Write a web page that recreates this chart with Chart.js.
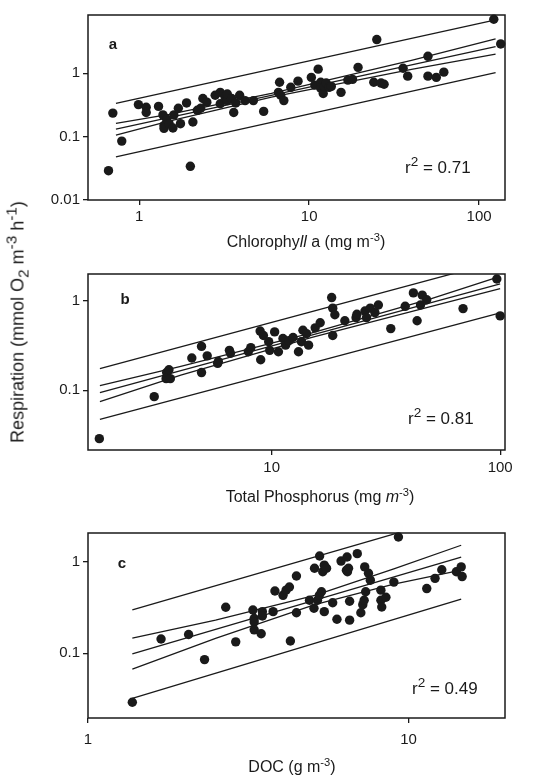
<!DOCTYPE html>
<html>
<head>
<meta charset="utf-8">
<script src="https://cdn.jsdelivr.net/npm/chart.js@4.4.1/dist/chart.umd.min.js"></script>
<style>
  body { margin: 0; background: #fff; }
  #page { position: relative; width: 553px; height: 775px; overflow: hidden;
          font-family: "Liberation Sans", Arial, sans-serif; color: #1a1a1a; }
  canvas { position: absolute; left: 0; }
  .txt { position: absolute; white-space: nowrap; font-size: 16px; line-height: 1; }
  .ctr { transform: translate(-50%, -50%); }
  .lft { transform: translate(0, -50%); }
  sup, sub { font-size: 0.7em; line-height: 0; }
  .ytitle { position: absolute; left: 18px; top: 322px; font-size: 18px; white-space: nowrap;
            transform: translate(-50%, -50%) rotate(-90deg); }
  .ytitle sup, .ytitle sub { font-size: 0.85em; }
  .letter { font-weight: bold; font-size: 15px; }
  .r2 { font-size: 17px; }
  .r2 sup { font-size: 0.8em; }
</style>
</head>
<body>
<div id="page">
  <canvas id="chartA"></canvas>
  <canvas id="chartB"></canvas>
  <canvas id="chartC"></canvas>

  <div class="ytitle">Respiration (mmol O<sub>2</sub> m<sup>-3</sup> h<sup>-1</sup>)</div>

  <div class="txt ctr letter" style="left:113px; top:43px;">a</div>
  <div class="txt ctr letter" style="left:125px; top:298px;">b</div>
  <div class="txt ctr letter" style="left:122px; top:562px;">c</div>

  <div class="txt lft r2" style="left:405px; top:167px;">r<sup>2</sup> = 0.71</div>
  <div class="txt lft r2" style="left:408px; top:418px;">r<sup>2</sup> = 0.81</div>
  <div class="txt lft r2" style="left:412px; top:688px;">r<sup>2</sup> = 0.49</div>

  <div class="txt ctr" style="left:306px; top:242px;">Chlorophy<i>ll</i> a (mg m<sup>-3</sup>)</div>
  <div class="txt ctr" style="left:320px; top:497px;">Total Phosphorus (mg <i>m</i><sup>-3</sup>)</div>
  <div class="txt ctr" style="left:292px; top:767px;">DOC (g m<sup>-3</sup>)</div>
</div>

<script>
// --- PANEL A: respiration vs chlorophyll a ---
const chlA = [0.66, 0.70, 0.79, 0.99, 1.1, 1.1, 1.3, 1.38, 1.4, 1.4, 1.45, 1.5, 1.58, 1.6, 1.7, 1.75,
  1.9, 2.0, 2.07, 2.2, 2.3, 2.37, 2.5, 2.8, 3.0, 3.0, 3.2, 3.3, 3.3, 3.5, 3.6, 3.7, 3.9, 4.2, 4.7,
  5.4, 6.6, 6.7, 6.8, 7.1, 7.8, 8.6, 10.3, 10.8, 11.3, 11.7, 11.7, 12.1, 12.3, 12.6, 13.1, 13.5,
  15.4, 16.9, 18, 19.4, 24, 25, 26.5, 27.6, 35.7, 38, 50, 50, 56, 62, 122, 134];
const respA = [0.029, 0.235, 0.085, 0.32, 0.29, 0.24, 0.30, 0.22, 0.15, 0.135, 0.19, 0.16, 0.137, 0.22, 0.28, 0.16,
  0.34, 0.034, 0.17, 0.26, 0.28, 0.40, 0.35, 0.45, 0.5, 0.33, 0.42, 0.37, 0.47, 0.40, 0.24, 0.34, 0.45, 0.37, 0.37,
  0.25, 0.5, 0.72, 0.45, 0.37, 0.6, 0.75, 0.86, 0.65, 1.16, 0.72, 0.58, 0.48, 0.62, 0.70, 0.6, 0.62,
  0.5, 0.78, 0.8, 1.24, 0.72, 3.4, 0.70, 0.67, 1.2, 0.9, 1.85, 0.9, 0.86, 1.04, 7.1, 2.9];
const lineXA = [0.73, 125];
const fitA = [0.131, 2.64];
const predHiA = [0.336, 6.95];
const predLoA = [0.048, 1.02];
const bandXA = [0.73, 1.5, 6, 40, 125];
const confHiA = [0.162, 0.225, 0.48, 1.6, 3.5];
const confLoA = [0.106, 0.176, 0.42, 1.15, 2.0];
const xTicksA = [1, 10, 100];
const yTicksA = [0.01, 0.1, 1];

// --- PANEL B: respiration vs total phosphorus ---
const tpB = [1.76, 3.06, 3.45, 3.47, 3.55, 3.6, 4.47, 4.93, 4.93, 5.22, 5.8, 5.84, 6.53, 6.6, 7.9, 8.1,
  8.9, 8.95, 9.2, 9.7, 9.8, 10.3, 10.7, 11.2, 11.5, 11.9, 12.4, 13.1, 13.5, 13.7, 14.2, 14.5, 15.5, 16.3,
  18.3, 18.5, 18.5, 18.9, 20.9, 23.4, 23.6, 25.6, 26.0, 27.0, 28.3, 29.3, 33.2, 38.4, 41.7, 43.3, 44.8,
  45.6, 47.7, 68.8, 96.7, 100];
const respB = [0.0288, 0.085, 0.135, 0.158, 0.17, 0.135, 0.23, 0.31, 0.158, 0.243, 0.2, 0.21, 0.28, 0.26, 0.27, 0.30,
  0.46, 0.22, 0.41, 0.35, 0.28, 0.45, 0.27, 0.38, 0.32, 0.36, 0.39, 0.27, 0.35, 0.47, 0.43, 0.32, 0.50, 0.57,
  1.09, 0.83, 0.41, 0.70, 0.60, 0.65, 0.71, 0.77, 0.65, 0.83, 0.74, 0.9, 0.49, 0.87, 1.23, 0.60, 0.9,
  1.16, 1.03, 0.82, 1.76, 0.68];
const lineXB = [1.77, 100];
const fitB = [0.0944, 1.55];
const predHiB = [0.175, 2.8];
const predLoB = [0.0473, 0.734];
const bandXB = [1.77, 4, 15, 50, 100];
const confHiB = [0.113, 0.185, 0.44, 1.06, 1.88];
const confLoB = [0.0748, 0.148, 0.39, 0.87, 1.37];
const xTicksB = [10, 100];
const yTicksB = [0.1, 1];

// --- PANEL C: respiration vs DOC ---
const docC = [1.375, 1.69, 2.06, 2.31, 2.69, 2.89, 3.27, 3.3, 3.3, 3.3, 3.47, 3.5, 3.5, 3.78, 3.83, 4.06,
  4.15, 4.25, 4.28, 4.47, 4.47, 4.91, 5.07, 5.09, 5.28, 5.2, 5.27, 5.35, 5.4, 5.46, 5.55, 5.46, 5.8, 5.98,
  6.16, 6.43, 6.4, 6.45, 6.5, 6.55, 6.55, 6.92, 7.1, 7.2, 7.27, 7.35, 7.3, 7.5, 7.6, 8.2, 8.2, 8.25, 8.5,
  9.0, 9.3, 11.4, 12.1, 12.7, 14.1, 14.6, 14.7];
const respC = [0.029, 0.143, 0.16, 0.085, 0.318, 0.133, 0.297, 0.24, 0.22, 0.18, 0.163, 0.285, 0.255, 0.285, 0.48, 0.43,
  0.49, 0.53, 0.136, 0.277, 0.70, 0.38, 0.31, 0.85, 1.16, 0.38, 0.43, 0.47, 0.78, 0.92, 0.85, 0.285, 0.357, 0.235,
  1.02, 1.13, 0.81, 0.78, 0.85, 0.37, 0.23, 1.23, 0.277, 0.34, 0.38, 0.47, 0.88, 0.75, 0.63, 0.49, 0.38, 0.32, 0.41,
  0.6, 1.87, 0.51, 0.66, 0.82, 0.78, 0.88, 0.69];
const lineXC = [1.375, 14.6];
const fitC = [0.098, 1.13];
const predHiC = [0.297, 3.3];
const predLoC = [0.032, 0.39];
const bandXC = [1.375, 2.5, 5.1, 9, 14.6];
const confHiC = [0.146, 0.23, 0.43, 0.84, 1.52];
const confLoC = [0.067, 0.145, 0.34, 0.57, 0.81];
const xTicksC = [1, 10];
const yTicksC = [0.1, 1];

const INK = '#1a1a1a';
const tickFont = { family: '"Liberation Sans", Arial, sans-serif', size: 15 };

const toPoints = (xs, ys) => xs.map((x, i) => ({ x: x, y: ys[i] }));

// box around the plot area
const framePlugin = {
    id: 'frame',
    afterDraw(chart) {
        const { ctx, chartArea: { left, top, right, bottom } } = chart;
        ctx.save();
        ctx.strokeStyle = INK;
        ctx.lineWidth = 1.5;
        ctx.strokeRect(left, top, right - left, bottom - top);
        ctx.restore();
    }
};

const lineSet = (xs, ys) => ({
    data: toPoints(xs, ys),
    showLine: true,
    pointRadius: 0,
    borderColor: INK,
    borderWidth: 1.3,
    fill: false
});

const makePanel = (id, cfg) => {
    const canvas = document.getElementById(id);
    canvas.width = 553;
    canvas.height = cfg.height;
    canvas.style.top = cfg.top + 'px';

    const axisCommon = {
        type: 'logarithmic',
        border: { display: false },
        grid: { drawOnChartArea: false, drawTicks: true, tickLength: 5, color: INK, lineWidth: 1.3 }
    };

    return new Chart(canvas, {
        type: 'scatter',
        data: {
            datasets: [
                {
                    data: toPoints(cfg.xs, cfg.ys),
                    pointRadius: 4.7,
                    backgroundColor: INK,
                    borderWidth: 0,
                    clip: false
                },
                lineSet(cfg.lineX, cfg.fit),
                lineSet(cfg.lineX, cfg.predHi),
                lineSet(cfg.lineX, cfg.predLo),
                lineSet(cfg.bandX, cfg.confHi),
                lineSet(cfg.bandX, cfg.confLo)
            ]
        },
        options: {
            responsive: false,
            animation: false,
            layout: { padding: { top: cfg.padTop, right: 48, left: 0, bottom: 0 } },
            plugins: { legend: { display: false }, tooltip: { enabled: false } },
            scales: {
                x: {
                    ...axisCommon,
                    min: cfg.xMin, max: cfg.xMax,
                    afterBuildTicks: (s) => { s.ticks = cfg.xTicks.map(v => ({ value: v })); },
                    afterFit: (s) => { s.height = cfg.xAxisH; },
                    ticks: { font: tickFont, color: INK, padding: cfg.xPad, autoSkip: false, maxRotation: 0,
                             callback: (v) => String(v) }
                },
                y: {
                    ...axisCommon,
                    min: cfg.yMin, max: cfg.yMax,
                    afterBuildTicks: (s) => { s.ticks = cfg.yTicks.map(v => ({ value: v })); },
                    afterFit: (s) => { s.width = 88; },
                    ticks: { font: tickFont, color: INK, padding: 3, callback: (v) => String(v) }
                }
            }
        },
        plugins: [framePlugin]
    });
};

makePanel('chartA', {
    top: 0, height: 262, padTop: 15, xAxisH: 62, xPad: 3,
    xMin: 0.5, xMax: 142, yMin: 0.01, yMax: 8.3,
    xs: chlA, ys: respA, lineX: lineXA, fit: fitA, predHi: predHiA, predLo: predLoA,
    bandX: bandXA, confHi: confHiA, confLo: confLoA, xTicks: xTicksA, yTicks: yTicksA
});

makePanel('chartB', {
    top: 262, height: 258, padTop: 6, xAxisH: 70, xPad: 4,
    xMin: 1.57, xMax: 105, yMin: 0.0215, yMax: 2.0,
    xs: tpB, ys: respB, lineX: lineXB, fit: fitB, predHi: predHiB, predLo: predLoB,
    bandX: bandXB, confHi: confHiB, confLo: confLoB, xTicks: xTicksB, yTicks: yTicksB
});

makePanel('chartC', {
    top: 520, height: 255, padTop: 13, xAxisH: 57, xPad: 8,
    xMin: 1, xMax: 20, yMin: 0.0195, yMax: 2.07,
    xs: docC, ys: respC, lineX: lineXC, fit: fitC, predHi: predHiC, predLo: predLoC,
    bandX: bandXC, confHi: confHiC, confLo: confLoC, xTicks: xTicksC, yTicks: yTicksC
});
</script>
</body>
</html>
